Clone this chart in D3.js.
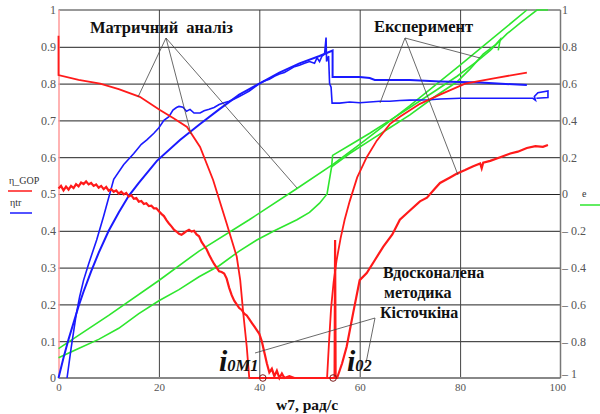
<!DOCTYPE html>
<html>
<head>
<meta charset="utf-8">
<script src="https://cdn.jsdelivr.net/npm/d3@7"></script>
<style>
  body { margin: 0; background: #fff; }
</style>
</head>
<body>
<svg id="chart" width="600" height="414"></svg>
<script>
// axis ticks
const xTicks = [0, 20, 40, 60, 80, 100];
const leftTicks = [0, 0.1, 0.2, 0.3, 0.4, 0.5, 0.6, 0.7, 0.8, 0.9, 1];
const rightTicks = [-1, -0.8, -0.6, -0.4, -0.2, 0, 0.2, 0.4, 0.6, 0.8, 1];

// η_GOP, matrix analysis (left axis)
const redMatrix = [[0,0.93],[0,0.823],[4,0.81],[8.3,0.8],[12,0.785],[16.2,0.764],[20.2,0.728],[23,0.705],
  [25.6,0.682],[28.2,0.628],[30.8,0.538],[33.5,0.42],[35.5,0.33],[36.2,0.266],[36.8,0.177],[37.5,0.085],
  [38,0],[53.5,0],[53.9,0.1],[54.3,0.19],[54.8,0.26],[55.4,0.32],[56.2,0.38],[57,0.43],[58,0.48],[59.5,0.545],
  [61.4,0.6],[63.4,0.645],[66,0.69],[68,0.71],[72,0.745],[76,0.77],[81,0.8],[87,0.815],[93.3,0.83]];

// η_GOP, experiment (left axis)
const redExp = [[0,0.515],[0.5,0.522],[1,0.51],[1.5,0.52],[2,0.512],[2.5,0.522],[3,0.516],[3.5,0.527],[4,0.521],
  [4.5,0.531],[5,0.527],[5.5,0.534],[6,0.526],[6.5,0.53],[7,0.522],[7.5,0.526],[8,0.517],[8.5,0.522],[9,0.513],
  [9.5,0.519],[10,0.509],[10.5,0.513],[11,0.506],[11.5,0.51],[12,0.501],[12.5,0.506],[13,0.499],[13.5,0.503],
  [14,0.493],[14.5,0.497],[15,0.487],[15.5,0.489],[16,0.479],[16.5,0.481],[17,0.473],[17.5,0.475],[18,0.467],
  [18.5,0.468],[19,0.461],[19.5,0.461],[20,0.453],[20.5,0.446],[21,0.44],[21.5,0.429],[22,0.42],[22.5,0.412],
  [23,0.403],[23.5,0.398],[24,0.392],[24.5,0.389],[25,0.394],[25.5,0.399],[26,0.403],[26.5,0.398],[27,0.4],
  [27.5,0.39],[28,0.385],[28.5,0.37],[29,0.36],[29.5,0.35],[30,0.335],[30.5,0.322],[31,0.31],[31.5,0.3],
  [32,0.29],[32.5,0.288],[33,0.284],[33.5,0.27],[34,0.245],[34.5,0.225],[35,0.21],[35.5,0.2],[36,0.19],
  [36.5,0.185],[37,0.175],[37.5,0.17],[38,0.16],[38.5,0.15],[39,0.14],[39.5,0.13],[40,0.12],[40.5,0.1],
  [41,0.07],[41.5,0.04],[42,0.015],[42.5,0.025],[43,0.005],[43.5,0.02],[44,0],[44.5,0.012],[45,0],[46,0.005],
  [47,0],[55,0],[55.1,0.375],[55.2,0],[55.5,0],[56.5,0.04],[57.4,0.085],[58.7,0.177],[60,0.266],[61.4,0.285],
  [63,0.32],[64.7,0.357],[66.5,0.39],[68,0.43],[70,0.455],[72,0.48],[73.4,0.49],[75,0.515],[76,0.53],
  [78,0.545],[79.3,0.555],[81,0.565],[82.5,0.575],[84,0.583],[84.3,0.57],[84.6,0.585],[86,0.59],[88,0.6],
  [90,0.61],[91.5,0.615],[93.3,0.625],[95,0.63],[96.5,0.628],[97.5,0.633]];

// ηtr, matrix analysis (left axis)
const blueMatrix = [[0,0],[1,0.055],[2,0.105],[3,0.15],[4,0.195],[5,0.235],[6.5,0.29],[8,0.34],[10,0.4],
  [12,0.45],[14,0.495],[16,0.53],[19.6,0.59],[24.2,0.647],[28.2,0.69],[32,0.73],[36,0.77],[40,0.8],
  [44,0.83],[48,0.855],[52,0.875],[54.6,0.89],[54.6,0.818],[60,0.818],[62,0.815],[63,0.81],[70,0.81],
  [76,0.806],[84,0.803],[93.3,0.796]];

// ηtr, experiment (left axis)
const blueExp = [[1.7,0],[2.5,0.08],[3.5,0.17],[4.2,0.22],[5,0.266],[6,0.31],[7.6,0.375],[9,0.44],[11,0.54],
  [13,0.58],[15,0.61],[16.5,0.635],[17.6,0.647],[19,0.665],[20,0.68],[21,0.7],[22,0.71],[22.8,0.728],
  [23.5,0.735],[24,0.738],[24.8,0.736],[25.5,0.725],[26.2,0.73],[27,0.72],[28.2,0.72],[29,0.726],[30,0.73],
  [31,0.735],[32,0.743],[33,0.748],[34,0.752],[35,0.758],[36,0.765],[37,0.772],[38,0.78],[39,0.79],[40,0.8],
  [41,0.807],[42,0.812],[43,0.82],[44,0.826],[45,0.83],[46,0.838],[47,0.846],[48,0.85],[49,0.855],[50,0.86],
  [51,0.855],[51.5,0.87],[52,0.86],[52.5,0.875],[53,0.88],[53.3,0.925],[53.4,0.86],[53.8,0.875],[54,0.8],
  [54.3,0.79],[54.5,0.747],[56,0.747],[58,0.75],[60,0.748],[62,0.75],[64,0.752],[66,0.752],[68,0.754],
  [70,0.755],[74,0.756],[76,0.758],[80,0.76],[84,0.76],[88,0.76],[92,0.76],[94.5,0.76],[95,0.755],
  [94.8,0.765],[95.5,0.775],[97.5,0.78],[97.5,0.762],[95.2,0.76]];

// e, matrix analysis (right axis)
const greenMatrix = [[0,-0.84],[10,-0.66],[20,-0.47],[28,-0.31],[38,-0.14],[47.5,0.03],[54.6,0.16],
  [60,0.27],[70,0.48],[80,0.7],[93.3,1]];

// e, experiment (right axis)
const greenExp = [[0,-0.89],[4,-0.84],[8,-0.79],[12,-0.73],[16,-0.65],[20,-0.58],[24,-0.52],[28,-0.45],
  [32,-0.39],[36,-0.31],[39.5,-0.25],[43,-0.2],[47.5,-0.14],[50,-0.1],[52,-0.05],[53.5,0],[54.4,0.147],
  [54.6,0.21],[58,0.265],[62,0.33],[66,0.4],[70,0.47],[75,0.56],[79.4,0.64],[83.3,0.72],[86,0.78],
  [89.3,0.87],[92,0.93],[95.3,1],[97.5,1]];
const greenExp2 = [[54.4,0.147],[58,0.22],[62,0.29],[66,0.36],[70,0.43],[75,0.53],[79.4,0.61],[82,0.68],
  [84.6,0.76],[87,0.81],[88,0.84],[87.6,0.78]];

const serif = "'Liberation Serif', 'Times New Roman', 'DejaVu Serif', serif";
const svg = d3.select("#chart").attr("font-family", serif);
const x = d3.scaleLinear().domain([0, 100]).range([58.5, 560.5]);
const yL = d3.scaleLinear().domain([0, 1]).range([378, 10]);
const yR = d3.scaleLinear().domain([-1, 1]).range([378, 10]);

// grid
svg.append("g").attr("transform", "translate(58.5,0)")
  .call(d3.axisLeft(yL).tickValues(leftTicks.slice(1, -1)).tickSize(-502).tickFormat(""))
  .call(g => g.select(".domain").remove())
  .call(g => g.selectAll("line").attr("stroke", "#222").attr("stroke-width", 1));
svg.append("g").attr("transform", "translate(0,378)")
  .call(d3.axisBottom(x).tickValues([20, 40, 60, 80]).tickSize(-368).tickFormat(""))
  .call(g => g.select(".domain").remove())
  .call(g => g.selectAll("line").attr("stroke", "#444").attr("stroke-width", 1));

// frame
svg.append("line").attr("x1", 58.5).attr("x2", 560.5).attr("y1", 10).attr("y2", 10).attr("stroke", "#333");
svg.append("line").attr("x1", 58.5).attr("x2", 560.5).attr("y1", 378).attr("y2", 378).attr("stroke", "#888").attr("stroke-width", 2);
svg.append("line").attr("x1", 560.5).attr("x2", 560.5).attr("y1", 10).attr("y2", 378).attr("stroke", "#777").attr("stroke-width", 1.5);
svg.append("line").attr("x1", 59).attr("x2", 59).attr("y1", 10).attr("y2", 378).attr("stroke", "#ff9a9a").attr("stroke-width", 1.5);

// tick labels
svg.append("g").attr("transform", "translate(56,0)")
  .call(d3.axisLeft(yL).tickValues(leftTicks).tickSize(0).tickPadding(0)
    .tickFormat(d => d === 0 || d === 1 ? String(d) : d3.format(".1f")(d)))
  .call(g => g.select(".domain").remove())
  .call(g => g.selectAll("text").attr("fill", "#555").attr("font-size", 12).attr("font-family", serif));
svg.append("g").attr("transform", "translate(562,0)")
  .call(d3.axisRight(yR).tickValues(rightTicks).tickSize(0).tickPadding(0)
    .tickFormat(d => d < 0 ? "– " + d3.format(".1~f")(-d) : d3.format(".1~f")(d)))
  .call(g => g.select(".domain").remove())
  .call(g => g.selectAll("text").attr("fill", "#555").attr("font-size", 12).attr("font-family", serif)
    .attr("dy", d => d === -1 ? "-0.05em" : "0.32em"));
svg.append("g").attr("transform", "translate(0,383)")
  .call(d3.axisBottom(x).tickValues(xTicks).tickSize(0).tickPadding(0))
  .call(g => g.select(".domain").remove())
  .call(g => g.selectAll("text").attr("fill", "#555").attr("font-size", 11).attr("font-family", serif)
    .attr("dx", d => d === 100 ? "-0.3em" : 0));

// series
const lineL = d3.line().x(d => x(d[0])).y(d => yL(d[1]));
const lineR = d3.line().x(d => x(d[0])).y(d => yR(d[1]));
const green = "#2ee62e";
svg.append("path").datum(greenMatrix).attr("d", lineR).attr("fill", "none").attr("stroke", green).attr("stroke-width", 1.6);
svg.append("path").datum(greenExp).attr("d", lineR).attr("fill", "none").attr("stroke", green).attr("stroke-width", 1.6);
svg.append("path").datum(greenExp2).attr("d", lineR).attr("fill", "none").attr("stroke", green).attr("stroke-width", 1.6);
svg.append("path").datum(blueMatrix).attr("d", lineL).attr("fill", "none").attr("stroke", "#1a1aff").attr("stroke-width", 2);
svg.append("path").datum(blueExp).attr("d", lineL).attr("fill", "none").attr("stroke", "#1a1aff").attr("stroke-width", 1.6);
svg.append("path").datum(redMatrix).attr("d", lineL).attr("fill", "none").attr("stroke", "#ff1a1a").attr("stroke-width", 1.8);
svg.append("path").datum(redExp).attr("d", lineL).attr("fill", "none").attr("stroke", "#ff1a1a").attr("stroke-width", 2.2);

// roots
svg.selectAll("circle.root").data([40.7, 54.7]).join("circle")
  .attr("cx", d => x(d)).attr("cy", yL(0)).attr("r", 3.3)
  .attr("fill", "none").attr("stroke", "#7a1a1a").attr("stroke-width", 1);

// annotation leaders
const leaders = [
  [[166, 38], [138, 97]], [[166, 38], [191, 134]], [[166, 38], [297, 188]],
  [[405, 38], [380, 103]], [[405, 38], [480, 58]], [[405, 38], [458, 175]],
  [[375, 318], [255, 353]], [[375, 318], [366, 363]]
];
svg.selectAll("line.lead").data(leaders).join("line")
  .attr("x1", d => d[0][0]).attr("y1", d => d[0][1]).attr("x2", d => d[1][0]).attr("y2", d => d[1][1])
  .attr("stroke", "#444").attr("stroke-width", 0.8);

// annotation text
const bold = (t, px, py, size) => svg.append("text").attr("x", px).attr("y", py)
  .attr("font-size", size).attr("font-weight", "bold").attr("font-family", serif).attr("fill", "#111").text(t);
bold("Матричний аналіз", 90, 33, 16.5).attr("word-spacing", 4);
bold("Експеримент", 374, 32, 16.5);
bold("Вдосконалена", 383, 278, 16);
bold("методика", 384, 298, 16);
bold("Кісточкіна", 380, 318, 16);
bold("w7, рад/с", 276, 410, 15.5);

const iLabel = (sub, px) => {
  const t = svg.append("text").attr("x", px).attr("y", 371).attr("font-weight", "bold")
    .attr("font-style", "italic").attr("font-family", serif).attr("fill", "#111");
  t.append("tspan").attr("font-size", 30).text("i");
  t.append("tspan").attr("font-size", 16.5).text(sub);
};
iLabel("0M1", 219);
iLabel("02", 347);

// legends
const small = (t, px, py) => svg.append("text").attr("x", px).attr("y", py).attr("font-size", 10)
  .attr("font-family", serif).attr("fill", "#333").text(t);
small("η_GOP", 9, 184);
svg.append("line").attr("x1", 8).attr("x2", 32).attr("y1", 191).attr("y2", 191).attr("stroke", "#ff1a1a").attr("stroke-width", 1.5);
small("ηtr", 10, 206);
svg.append("line").attr("x1", 10).attr("x2", 32).attr("y1", 213).attr("y2", 213).attr("stroke", "#1a1aff").attr("stroke-width", 1.5);
small("e", 582, 197);
svg.append("line").attr("x1", 580).attr("x2", 600).attr("y1", 205).attr("y2", 205).attr("stroke", green).attr("stroke-width", 1.5);
</script>
</body>
</html>
